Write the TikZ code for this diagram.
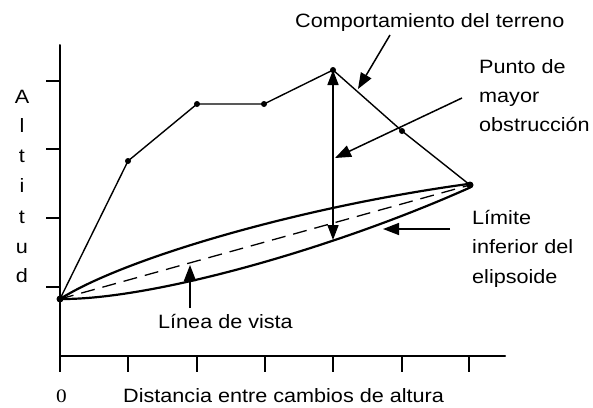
\documentclass[tikz,border=0pt]{standalone}
\usepackage{fontspec}
\setmainfont{Liberation Sans}[FakeStretch=1.12]
\newfontfamily\zerofont{Liberation Serif}[FakeStretch=1.12]
\usetikzlibrary{arrows.meta,calc}
\begin{document}
\begin{tikzpicture}[x=1pt,y=-1pt,
  lbl/.style={inner sep=0pt,anchor=base west,font=\fontsize{19.3}{23}\selectfont},
  axis/.style={line width=2pt,line cap=round},
  tick/.style={line width=1.6pt},
  terr/.style={line width=1.4pt},
  dot/.style={circle,fill=black,inner sep=0pt,minimum size=6pt},
  ptr/.style={line width=1.5pt,-{Triangle[length=16pt,width=12pt]}},
  elli/.style={line width=2.2pt,line join=round},
]
\useasboundingbox (0,0) rectangle (593,407);
% axes
\coordinate (ytop) at (60,45);
\coordinate (orig) at (60,356);
\coordinate (xend) at (505,356);
\draw[axis] (ytop) -- (orig) -- (xend);
\foreach \y in {81,149,218,287} \draw[tick] (46,\y) -- (60,\y);
\foreach \x in {60,128,197,265,333,402,469} \draw[tick] (\x,356) -- (\x,372);
% terrain
\coordinate (p0) at (60,299);
\coordinate (p1) at (128,161);
\coordinate (p2) at (197,104);
\coordinate (p3) at (264,104);
\coordinate (p4) at (333,70);
\coordinate (p5) at (402,131);
\coordinate (p6) at (470,185);
\draw[terr] (p0) -- (p1) -- (p2) -- (p3) -- (p4) -- (p5) -- (p6);
\foreach \p in {p1,p2,p3,p4,p5} \node[dot] at (\p) {};
\node[dot,minimum size=7pt] (d0) at (p0) {};
\node[dot,minimum size=7pt] (d6) at (p6) {};
% ellipsoid
\draw[elli] (p0) .. controls (125,258) and (300,207) .. (468,184)
  .. controls (472,184) and (472,187) .. (469,188)
  .. controls (330,250) and (150,300) .. (p0);
\draw[line width=1.3pt,dash pattern=on 14pt off 8pt] (p0) -- (p6);
% obstruction arrow
\coordinate (vb) at (333,240);
\draw[line width=1.6pt,{Triangle[length=15pt,width=11pt]}-{Triangle[length=15pt,width=11pt]}] (333,70) -- (vb);
% labels
\node[lbl] (t1) at (295,27) {Comportamiento del terreno};
\node[lbl] (t2a) at (479,73) {Punto de};
\node[lbl] (t2b) at (479,102) {mayor};
\node[lbl] (t2c) at (479,131) {obstrucción};
\node[lbl] (t3a) at (472,224) {Límite};
\node[lbl] (t3b) at (472,253) {inferior del};
\node[lbl] (t3c) at (472,283) {elipsoide};
\node[lbl] (t4) at (158,328) {Línea de vista};
\node[lbl] (t5) at (123,402) {Distancia entre cambios de altura};
\node[lbl,font=\fontsize{19}{23}\zerofont] (t0) at (56,402) {0};
\foreach \ch/\yy in {A/103,l/132,t/162,i/192,t/223,u/253,d/282}
  \node[inner sep=0pt,anchor=base,font=\fontsize{19.3}{23}\selectfont] at (22,\yy) {\ch};
% pointer arrows
\coordinate (a1s) at (390,35);
\coordinate (a1e) at (358,89);
\draw[ptr] (a1s) -- (a1e);
\coordinate (a2s) at (462,98);
\coordinate (a2e) at (335,158);
\draw[ptr] (a2s) -- (a2e);
\coordinate (a3s) at (450,229);
\coordinate (a3e) at (383,229);
\draw[ptr] (a3s) -- (a3e);
\coordinate (a4s) at (190,308);
\coordinate (a4e) at (190,265);
\draw[ptr] (a4s) -- (a4e);
\end{tikzpicture}
\end{document}
